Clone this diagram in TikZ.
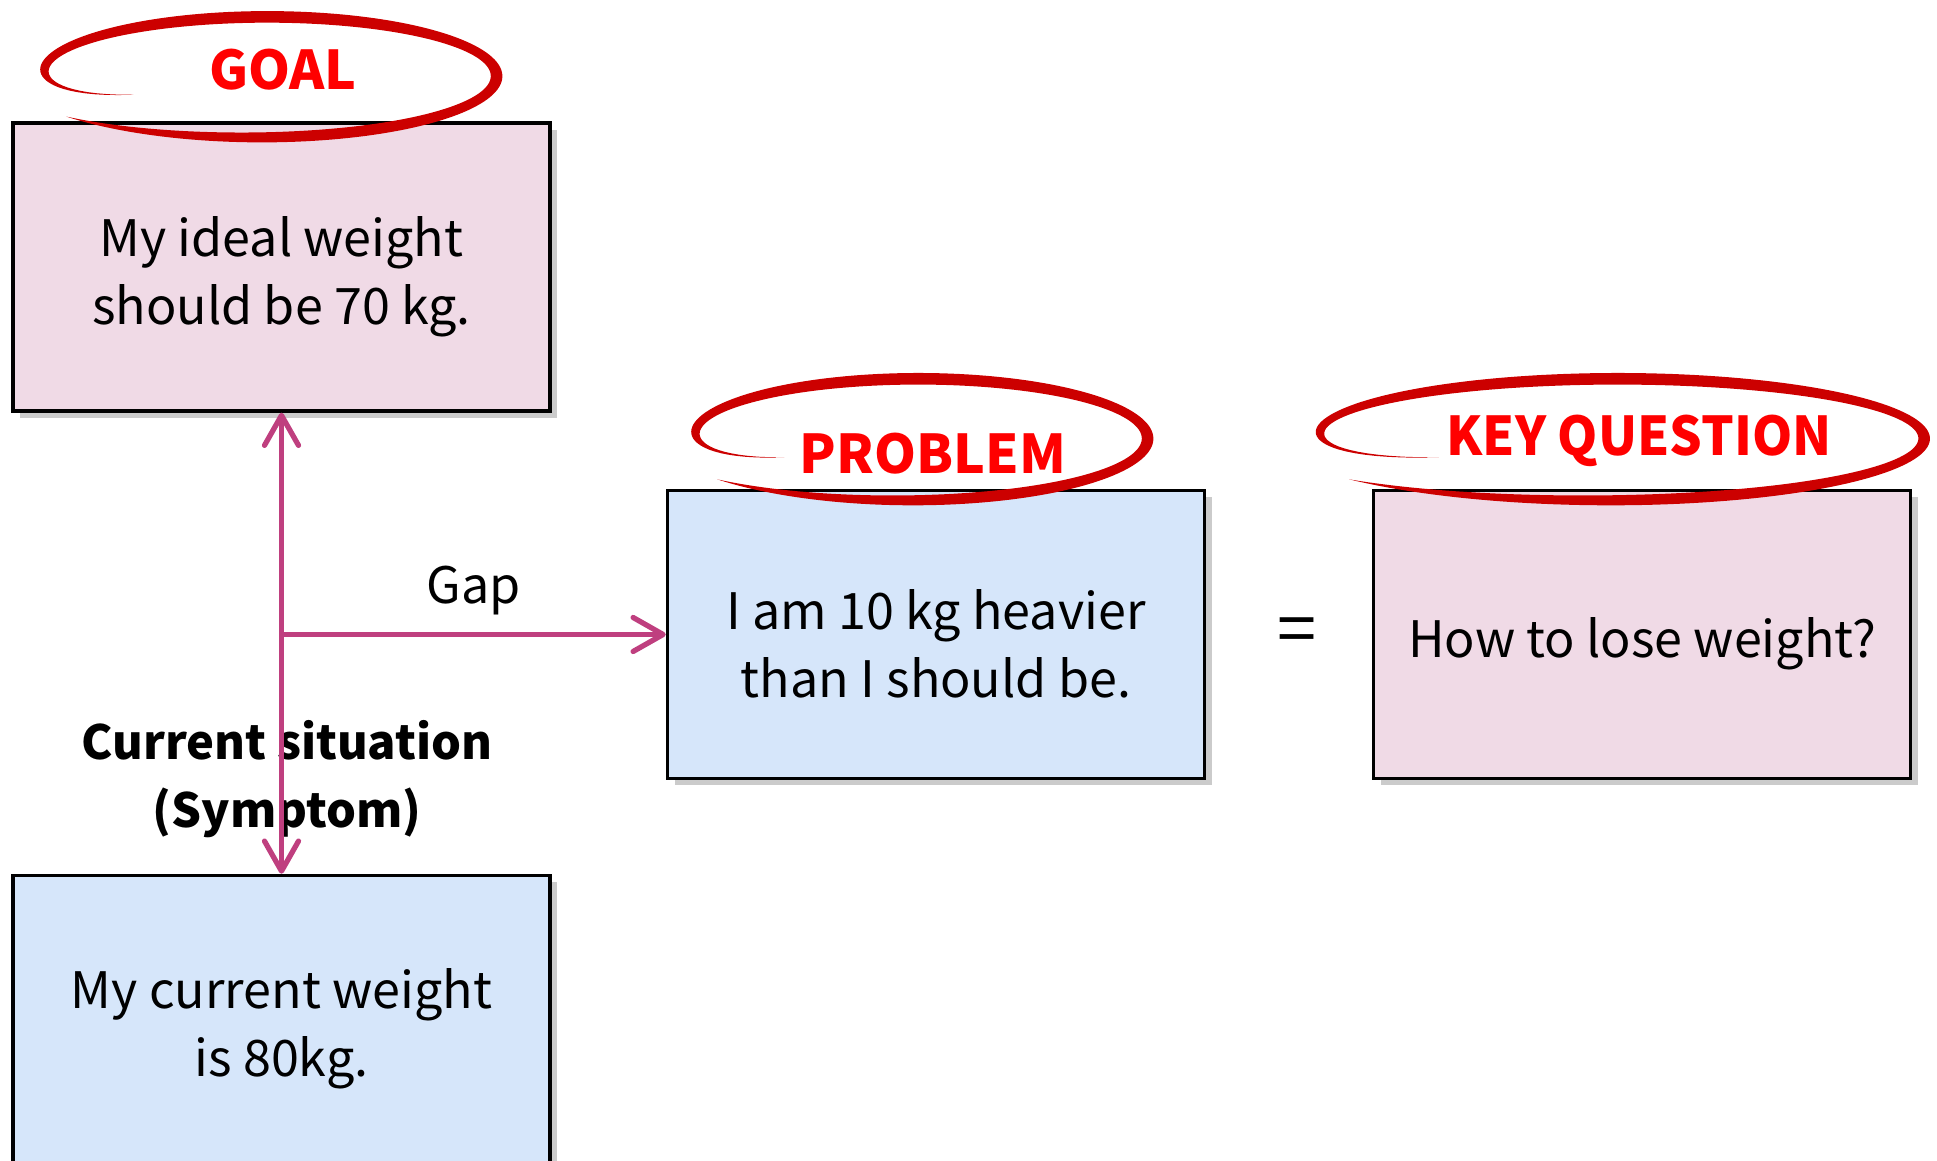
\documentclass[tikz,border=0pt]{standalone}
\usepackage{fontspec}
\setmainfont{Noto Sans CJK JP}
\usetikzlibrary{arrows.meta,positioning,shadows}
\definecolor{goalpink}{RGB}{240,218,230}
\definecolor{factblue}{RGB}{214,230,250}
\definecolor{gapmag}{RGB}{191,63,127}
\definecolor{ringred}{RGB}{204,0,0}
\definecolor{tagred}{RGB}{255,0,0}
% pushes box text a little below the middle
\newcommand{\boxstrut}{\rule{0pt}{16.8pt}}
% brush ring: centre x, centre y, half axes rx, ry
\newcommand{\handring}[4]{\fill[ringred]plot[domain=0:1,samples=160,variable=\t]({#1+(#3*ringr(\t)+.058*ringw(\t))*cos(ringa(\t))},{#2+(#4*ringr(\t)+.058*ringw(\t))*sin(ringa(\t))})--plot[domain=1:0,samples=160,variable=\t]({#1+(#3*ringr(\t)-.058*ringw(\t))*cos(ringa(\t))},{#2+(#4*ringr(\t)-.058*ringw(\t))*sin(ringa(\t))})--cycle;}

\begin{document}
\begin{tikzpicture}[x=1cm,y=1cm,font=\fontsize{14.3}{19.4}\selectfont,
box/.style={draw=black,line width=1pt,fill=goalpink,align=center,minimum width=5.37cm,minimum height=2.88cm,drop shadow={shadow xshift=.7mm,shadow yshift=-.7mm,fill=black!45,opacity=.45}},
tag/.style={text=tagred,font=\fontsize{15.2}{18}\selectfont\bfseries},
gap/.style={-{Straight Barb[length=3mm,width=3.4mm,round]},line width=1.5pt,draw=gapmag},
both/.style={{Straight Barb[length=3mm,width=3.4mm,round]}-{Straight Barb[length=3mm,width=3.4mm,round]},line width=1.5pt,draw=gapmag},
declare function={ringr(\t)=1+.14*\t^4-.32*(1-\t)^30;ringa(\t)=210-351*\t;ringw(\t)=1-((2*\t-1)^2)^3;}]
\useasboundingbox(0,0)rectangle(19.37,11.61);

\node[box](goal)at(2.815,8.94){\boxstrut My ideal weight\\should be 70 kg.};
\node[box,fill=factblue](current)at(2.815,1.415){\boxstrut My current weight\\is 80kg.};
\node[box,fill=factblue](problem)at(9.36,5.265){\boxstrut I am 10 kg heavier\\than I should be.};
\node[box](keyq)at(16.42,5.265){\boxstrut How to lose weight?};
\node[font=\fontsize{20}{22}\selectfont](eq)at(12.97,5.25){=};

% rings over the box tops
\handring{2.665}{10.86}{2.26}{0.58}
\handring{9.175}{7.236}{2.26}{0.585}
\handring{16.167}{7.236}{3.02}{0.585}
\node[tag](goaltag)at(2.83,10.91){GOAL};
\node[tag](probtag)at(9.33,7.07){PROBLEM};
\node[tag](keytag)at(16.39,7.2){\scalebox{.96}[1]{KEY QUESTION}};

\node[font=\fontsize{13.4}{19.4}\selectfont\bfseries,align=center](symptom)at(2.87,3.82){Current situation\\(Symptom)};
\coordinate(split)at(goal.south|-problem.west);
\draw[both](goal.south)--(current.north);
\draw[gap](split)--node[above=.5mm]{Gap}(problem.west);
\end{tikzpicture}
\end{document}
